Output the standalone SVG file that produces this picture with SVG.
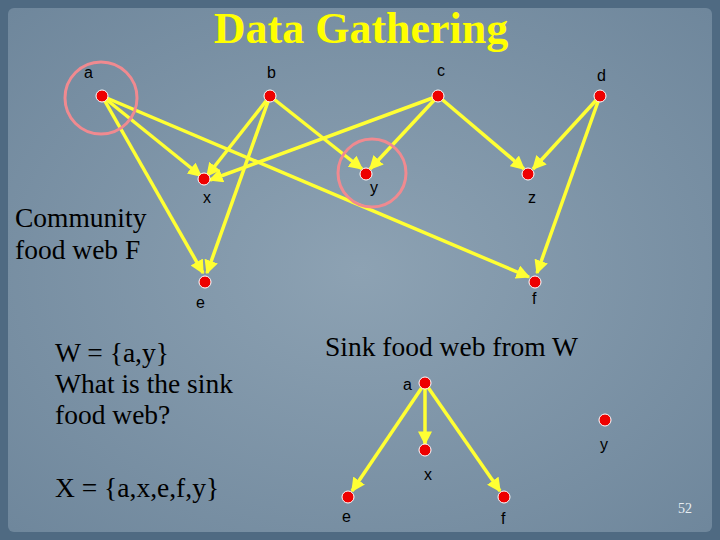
<svg xmlns="http://www.w3.org/2000/svg" width="720" height="540" viewBox="0 0 720 540">
<defs>
<marker id="ah" viewBox="0 0 10 10" refX="9" refY="5" markerWidth="4" markerHeight="4" orient="auto"><path d="M0,0L10,5L0,10z" fill="#ffff33"/></marker>
<radialGradient id="bg" cx="50%" cy="50%" r="70%"><stop offset="0" stop-color="#8da2b3"/><stop offset="1" stop-color="#6f879c"/></radialGradient>
</defs>
<style>
.e{stroke:#ffff33;stroke-width:3.5;fill:none;marker-end:url(#ah)}
.n{fill:#ee0000;stroke:#fff;stroke-width:1}
.l{font-family:"Liberation Sans",Arial,sans-serif;font-size:16px;fill:#000}
.s{font-family:"Liberation Serif","Times New Roman",serif;font-size:27.5px;fill:#000}
.r{fill:none;stroke:#f08a90;stroke-width:3}
</style>
<rect width="720" height="540" fill="#4f6a82"/>
<rect x="8" y="8" width="704" height="524" rx="6" fill="url(#bg)"/>
<text x="361" y="43" text-anchor="middle" font-family="Liberation Serif,serif" font-weight="bold" font-size="44" fill="#ffff00">Data Gathering</text>
<g id="connectors">
<line class="e" x1="102" y1="96" x2="201" y2="176"/>
<line class="e" x1="102" y1="96" x2="203" y2="273"/>
<line class="e" x1="102" y1="96" x2="529" y2="277"/>
<line class="e" x1="270" y1="96" x2="207" y2="176"/>
<line class="e" x1="270" y1="96" x2="207" y2="273"/>
<line class="e" x1="270" y1="96" x2="362" y2="169"/>
<line class="e" x1="438" y1="96" x2="210" y2="180"/>
<line class="e" x1="438" y1="96" x2="370" y2="169"/>
<line class="e" x1="438" y1="96" x2="524" y2="169"/>
<line class="e" x1="600" y1="96" x2="533" y2="169"/>
<line class="e" x1="600" y1="96" x2="537" y2="273"/>
<line class="e" x1="425" y1="383" x2="425" y2="444"/>
<line class="e" x1="425" y1="383" x2="352" y2="491"/>
<line class="e" x1="425" y1="383" x2="500" y2="491"/>
</g>
<circle class="r" cx="101" cy="98" r="36"/>
<circle class="r" cx="372" cy="173" r="34"/>
<g id="a"><circle class="n" cx="102" cy="96" r="6"/><text class="l" x="84" y="78">a</text></g>
<g id="b"><circle class="n" cx="270" cy="96" r="6"/><text class="l" x="267" y="78">b</text></g>
<g id="c"><circle class="n" cx="438" cy="96" r="6"/><text class="l" x="437" y="76">c</text></g>
<g id="d"><circle class="n" cx="600" cy="96" r="6"/><text class="l" x="597" y="81">d</text></g>
<g id="x"><circle class="n" cx="204" cy="179" r="6"/><text class="l" x="203" y="203">x</text></g>
<g id="y"><circle class="n" cx="366" cy="174" r="6"/><text class="l" x="370" y="193">y</text></g>
<g id="z"><circle class="n" cx="528" cy="174" r="6"/><text class="l" x="528" y="203">z</text></g>
<g id="e"><circle class="n" cx="205" cy="282" r="6"/><text class="l" x="196" y="308">e</text></g>
<g id="f"><circle class="n" cx="535" cy="282" r="6"/><text class="l" x="532" y="304">f</text></g>
<text class="s" x="15" y="227">Community</text>
<text class="s" x="15" y="259">food web F</text>
<text class="s" x="55" y="362">W = {a,y}</text>
<text class="s" x="55" y="393">What is the sink</text>
<text class="s" x="55" y="424">food web?</text>
<text class="s" x="55" y="497">X = {a,x,e,f,y}</text>
<text class="s" x="325" y="356">Sink food web from W</text>
<g id="a2"><circle class="n" cx="425" cy="383" r="6"/><text class="l" x="403" y="390">a</text></g>
<g id="x2"><circle class="n" cx="425" cy="450" r="6"/><text class="l" x="424" y="480">x</text></g>
<g id="e2"><circle class="n" cx="348" cy="497" r="6"/><text class="l" x="342" y="522">e</text></g>
<g id="f2"><circle class="n" cx="504" cy="497" r="6"/><text class="l" x="501" y="524">f</text></g>
<g id="y2"><circle class="n" cx="605" cy="420" r="6"/><text class="l" x="600" y="450">y</text></g>
<text x="678" y="513" font-family="Liberation Serif,serif" font-size="14" fill="#e8eef2">52</text>
</svg>
